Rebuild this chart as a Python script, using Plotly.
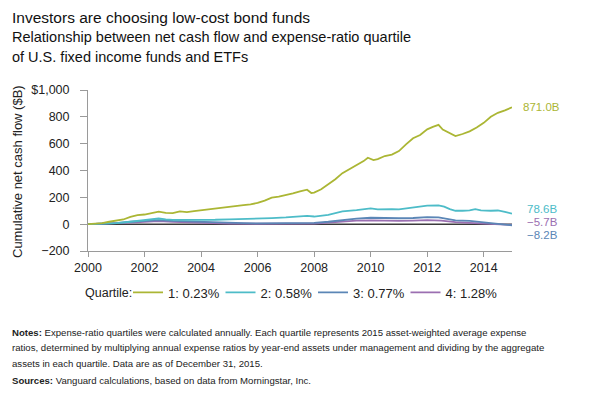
import plotly.graph_objects as go

# ---- data ----
q1_x = [2000.0, 2000.25, 2000.5, 2000.75, 2001.0, 2001.25, 2001.5, 2001.75, 2002.0, 2002.25, 2002.5, 2002.75,
        2003.0, 2003.25, 2003.5, 2003.75, 2004.0, 2004.25, 2004.5, 2004.75, 2005.0, 2005.25, 2005.5, 2005.75,
        2006.0, 2006.25, 2006.5, 2006.75, 2007.0, 2007.25, 2007.5, 2007.75, 2007.9, 2008.0, 2008.25, 2008.5,
        2008.75, 2009.0, 2009.25, 2009.5, 2009.75, 2009.9, 2010.1, 2010.25, 2010.5, 2010.75, 2011.0, 2011.25,
        2011.5, 2011.75, 2012.0, 2012.2, 2012.4, 2012.55, 2012.75, 2013.0, 2013.25, 2013.5, 2013.75, 2014.0,
        2014.25, 2014.5, 2014.75, 2015.0]
q1_y = [0, 4, 8, 18, 25, 35, 55, 68, 72, 85, 93, 84,
        83, 95, 90, 98, 105, 110, 115, 122, 130, 138, 142, 148,
        158, 175, 198, 205, 215, 230, 245, 257, 232, 235, 260, 295,
        335, 380, 410, 445, 470, 495, 478, 485, 508, 518, 545, 595,
        640, 665, 707, 725, 740, 705, 685, 657, 672, 692, 720, 755,
        800, 830, 848, 871.0]

q2_x = [2000.0, 2000.5, 2001.0, 2001.5, 2002.0, 2002.25, 2002.5, 2002.75, 2003.0, 2003.5, 2004.0, 2004.5,
        2005.0, 2005.5, 2006.0, 2006.5, 2007.0, 2007.5, 2007.75, 2008.0, 2008.25, 2008.5, 2008.75, 2009.0,
        2009.5, 2009.75, 2010.0, 2010.25, 2010.5, 2010.75, 2011.0, 2011.5, 2011.75, 2012.0, 2012.4, 2012.6,
        2012.8, 2013.0, 2013.25, 2013.5, 2013.7, 2013.9, 2014.25, 2014.5, 2014.75, 2015.0]
q2_y = [0, 2, 8, 18, 30, 38, 42, 36, 32, 32, 30, 33,
        36, 38, 40, 45, 50, 55, 62, 57, 62, 70, 82, 95,
        105, 112, 118, 110, 112, 112, 110, 122, 130, 138, 140, 130,
        112, 100, 100, 103, 112, 103, 100, 102, 92, 78.6]

q3_x = [2000.0, 2000.5, 2001.0, 2001.5, 2002.0, 2002.5, 2003.0, 2003.5, 2004.0, 2004.5, 2005.0, 2005.5,
        2006.0, 2006.5, 2007.0, 2007.5, 2008.0, 2008.5, 2009.0, 2009.5, 2010.0, 2010.5, 2011.0, 2011.5,
        2012.0, 2012.4, 2012.75, 2013.0, 2013.5, 2014.0, 2014.5, 2015.0]
q3_y = [0, 2, 8, 18, 26, 30, 24, 20, 15, 12, 10, 8,
        6, 6, 8, 10, 10, 18, 32, 42, 48, 44, 44, 46,
        52, 50, 38, 28, 24, 12, 2, -8.2]

q4_x = [2000.0, 2001.0, 2001.5, 2002.0, 2002.5, 2003.0, 2003.5, 2004.0, 2004.5, 2005.0, 2006.0, 2007.0,
        2008.0, 2008.5, 2009.0, 2009.5, 2010.0, 2010.5, 2011.0, 2011.5, 2012.0, 2012.5, 2013.0, 2013.5,
        2014.0, 2014.5, 2015.0]
q4_y = [0, 5, 12, 18, 22, 18, 14, 10, 7, 5, 3, 3,
        5, 12, 20, 26, 28, 24, 24, 26, 30, 27, 15, 10,
        4, 0, -5.7]

series_names = ["1: 0.23%", "2: 0.58%", "3: 0.77%", "4: 1.28%"]
end_labels = ["871.0B", "78.6B", "\u22128.2B", "\u22125.7B"]
colors = ["#abb634", "#4dbcc8", "#5b86b6", "#9b6fb1"]

x_ticks = [2000, 2002, 2004, 2006, 2008, 2010, 2012, 2014]
y_ticks = [-200, 0, 200, 400, 600, 800, 1000]
y_tick_text = ["\u2212200", "0", "200", "400", "600", "800", "$1,000"]

title_text = "Investors are choosing low-cost bond funds"
subtitle_lines = ["Relationship between net cash flow and expense-ratio quartile",
                  "of U.S. fixed income funds and ETFs"]
y_title = "Cumulative net cash flow ($B)"
legend_label = "Quartile:"
notes_lines = [
    "<b>Notes:</b> Expense-ratio quartiles were calculated annually. Each quartile represents 2015 asset-weighted average expense",
    "ratios, determined by multiplying annual expense ratios by year-end assets under management and dividing by the aggregate",
    "assets in each quartile. Data are as of December 31, 2015.",
    "<b>Sources:</b> Vanguard calculations, based on data from Morningstar, Inc.",
]

# ---- figure ----
OFF = 8  # page body margin
W, H = 598 - OFF, 398 - OFF
PL, PR, PT, PB = 88, 512, 90, 251  # plot box in page pixels
L, T = PL - OFF, PT - OFF
R, B = W - (PR - OFF), H - (PB - OFF)
PW, PH = PR - PL, PB - PT

def px_x(x):  # page px -> paper
    return (x - PL) / PW

def px_y(y):
    return (PB - y) / PH

FONT = "Liberation Sans, Arial, Helvetica, sans-serif"

fig = go.Figure()

# zero reference line
fig.add_trace(go.Scatter(x=[2000, 2015], y=[0, 0], mode="lines",
                         line=dict(color="#3a3a3a", width=1.5), showlegend=False, hoverinfo="skip"))

xs = [q1_x, q2_x, q3_x, q4_x]
ys = [q1_y, q2_y, q3_y, q4_y]
for i in [3, 2, 1, 0]:
    fig.add_trace(go.Scatter(x=xs[i], y=ys[i], mode="lines", name=series_names[i],
                             line=dict(color=colors[i], width=1.8), legendrank=i + 1))

# end labels
shifts = [0, 5, -10, 3]
for i in range(4):
    fig.add_annotation(x=xs[i][-1], y=ys[i][-1], xref="x", yref="y", text=end_labels[i],
                       showarrow=False, xanchor="left", yanchor="middle", borderpad=0,
                       xshift=10 if i == 0 else 14, yshift=shifts[i],
                       font=dict(family=FONT, size=11.5, color=colors[i]))

# titles
fig.add_annotation(x=px_x(11), y=px_y(OFF), xref="paper", yref="paper", text=title_text,
                   showarrow=False, xanchor="left", yanchor="top", borderpad=0,
                   font=dict(family=FONT, size=15.5, color="#111111"))
for k, line in enumerate(subtitle_lines):
    fig.add_annotation(x=px_x(11), y=px_y(37 + 20 * k), xref="paper", yref="paper", text=line,
                       showarrow=False, xanchor="left", yanchor="middle", borderpad=0,
                       font=dict(family=FONT, size=14.5, color="#111111"))

# y axis title
fig.add_annotation(x=px_x(17), y=px_y(172), xref="paper", yref="paper", text=y_title,
                   textangle=-90, showarrow=False, xanchor="center", yanchor="middle",
                   font=dict(family=FONT, size=13, color="#222222"))

# legend label
fig.add_annotation(x=px_x(84), y=px_y(292.5), xref="paper", yref="paper", text=legend_label,
                   showarrow=False, xanchor="left", yanchor="middle", borderpad=0,
                   font=dict(family=FONT, size=12.5, color="#222222"))

# notes
for k, (line, ypx) in enumerate(zip(notes_lines, [332, 347.5, 363, 380])):
    fig.add_annotation(x=px_x(11), y=px_y(ypx), xref="paper", yref="paper", text=line,
                       showarrow=False, xanchor="left", yanchor="middle", borderpad=0,
                       font=dict(family=FONT, size=9.6, color="#222222"))

fig.update_layout(
    width=W, height=H,
    margin=dict(l=L, r=R, t=T, b=B, autoexpand=False),
    paper_bgcolor="white", plot_bgcolor="white",
    font=dict(family=FONT, size=12.5, color="#222222"),
    showlegend=True,
    legend=dict(orientation="h", x=px_x(128), xanchor="left", y=px_y(292.5), yanchor="middle",
                font=dict(size=13, color="#222222"), traceorder="normal",
                entrywidth=47.5, entrywidthmode="pixels",
                bgcolor="rgba(0,0,0,0)"),
    xaxis=dict(range=[2000, 2015], tickvals=x_ticks, ticktext=[str(v) for v in x_ticks],
               showgrid=False, zeroline=False, showline=True, linecolor="#9a9a9a", linewidth=1,
               ticks="outside", ticklen=5, tickcolor="#9a9a9a", tickfont=dict(size=12.5, color="#222222")),
    yaxis=dict(range=[-200, 1000], tickvals=y_ticks, ticktext=y_tick_text,
               showgrid=False, zeroline=False, showline=True, linecolor="#9a9a9a", linewidth=1,
               ticks="outside", ticklen=7, tickcolor="#9a9a9a", ticklabelstandoff=8,
               tickfont=dict(size=12.5, color="#222222")),
)

fig.write_html("out.html")
